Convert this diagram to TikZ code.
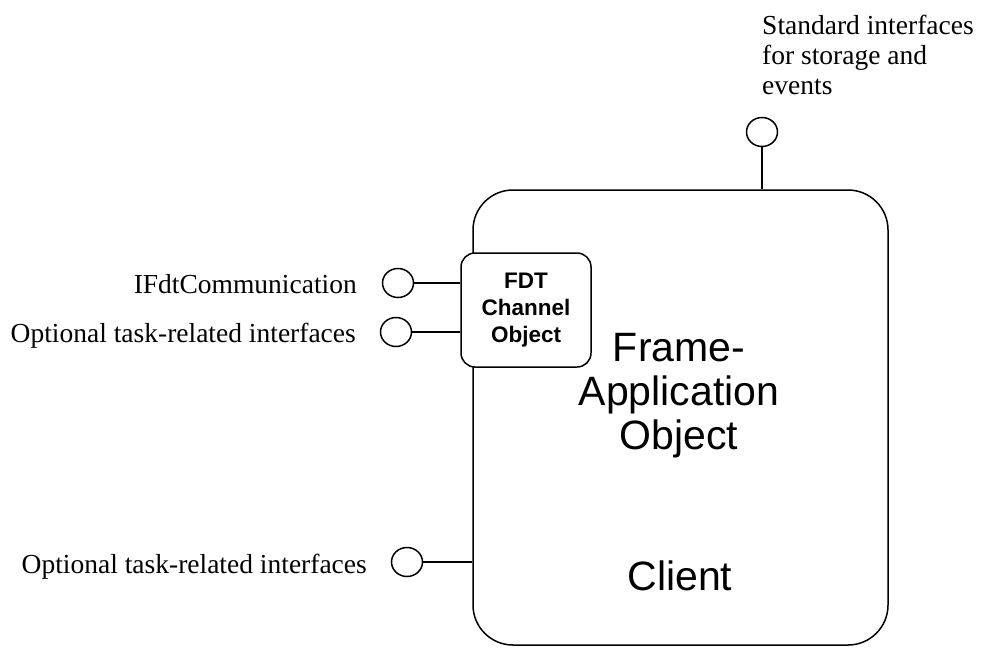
\documentclass[tikz,border=0pt]{standalone}
\usepackage{fontspec}
\setmainfont{Liberation Serif}
\setsansfont{Liberation Sans}
\usetikzlibrary{shapes.geometric}
\begin{document}
\begin{tikzpicture}[x=1pt,y=-1pt,
  outline/.style={draw=black, line width=1.5pt},
  objectbox/.style={outline, fill=white, rounded corners=#1, inner sep=0pt},
  port/.style={outline, ellipse, minimum width=31pt, minimum height=29pt, inner sep=0pt},
  wire/.style={draw=black, line width=1.5pt},
  label/.style={font=\fontsize{27.5}{30}\selectfont, inner sep=0pt},
  bigtext/.style={font=\sffamily\fontsize{41}{44}\selectfont, align=center, inner sep=0pt}
]
\useasboundingbox (0,0) rectangle (981,648);

% Frame-Application object
\node[objectbox=40pt, minimum width=415pt, minimum height=455pt] (frame) at (680.5,417.5) {};
\node[bigtext] (frametitle) at (679,396) {Frame-\\Application\\Object};
\node[bigtext, anchor=base] (client) at (680,590) {Client};

% FDT channel object sitting on the left edge
\node[objectbox=14pt, minimum width=130pt, minimum height=114pt,
      font=\sffamily\bfseries\fontsize{22.5}{27}\selectfont, align=center] (fdt) at (526,310)
      {FDT\\Channel\\Object};

% interface lollipops
\node[port] (ptop) at (762,132) {};
\node[port] (pcomm) at (398,283) {};
\node[port] (ptask) at (396,332) {};
\node[port] (pclient) at (407,562) {};

\draw[wire] (ptop) -- (ptop |- frame.north);
\draw[wire] (pcomm) -- (pcomm -| fdt.west);
\draw[wire] (ptask) -- (ptask -| fdt.west);
\draw[wire] (pclient) -- (pclient -| frame.west);

% interface labels
\node[label, align=left, anchor=north west] (ltop) at (762,15)
  {Standard interfaces\\for storage and\\events};
\node[label, anchor=base east] (lcomm) at (357,293) {IFdtCommunication};
\node[label, anchor=base east] (ltask) at (356,342) {Optional task-related interfaces};
\node[label, anchor=base east] (lclient) at (367,573) {Optional task-related interfaces};
\end{tikzpicture}
\end{document}
